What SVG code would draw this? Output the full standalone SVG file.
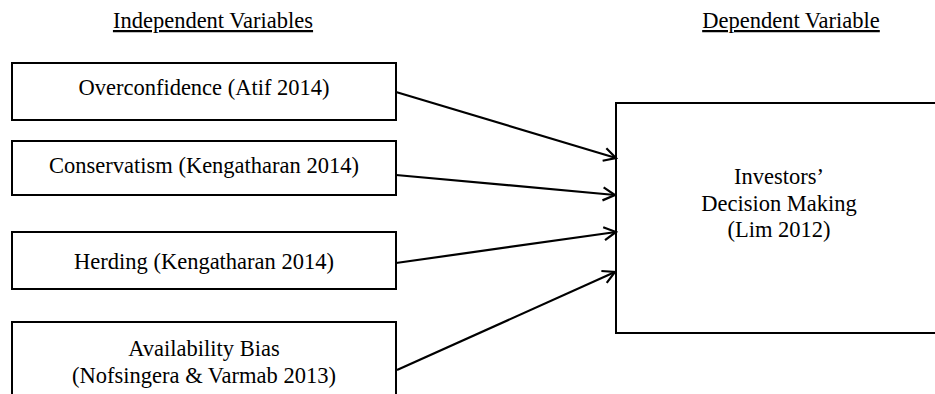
<svg xmlns="http://www.w3.org/2000/svg" width="935" height="394" viewBox="0 0 935 394">
<defs>
<style>
.box{fill:#fff;stroke:#000;stroke-width:2}
.t{font-family:"Liberation Serif","Times New Roman",serif;font-size:22.5px;fill:#000;text-anchor:middle}
.h{font-family:"Liberation Serif","Times New Roman",serif;font-size:22.5px;fill:#000;text-anchor:middle;text-decoration:underline}
.c{stroke:#000;stroke-width:2.2;fill:none}
</style>
<marker id="ah" viewBox="0 0 16 16" refX="14" refY="8" markerWidth="16" markerHeight="16" markerUnits="userSpaceOnUse" orient="auto">
<path d="M2,1.5 L14,8 L2,14.5" fill="none" stroke="#000" stroke-width="2.2"/>
</marker>
</defs>
<rect width="935" height="394" fill="#fff"/>
<text class="h" x="213" y="28">Independent Variables</text>
<text class="h" x="791" y="28">Dependent Variable</text>
<g id="n1"><rect class="box" x="12" y="63" width="384" height="57"/><text class="t" x="204" y="95">Overconfidence (Atif 2014)</text></g>
<g id="n2"><rect class="box" x="12" y="141" width="384" height="54"/><text class="t" x="204" y="173">Conservatism (Kengatharan 2014)</text></g>
<g id="n3"><rect class="box" x="12" y="232" width="384" height="57"/><text class="t" x="204" y="269">Herding (Kengatharan 2014)</text></g>
<g id="n4"><rect class="box" x="12" y="322" width="384" height="90"/><text class="t" x="204" y="356">Availability Bias</text><text class="t" x="204" y="383">(Nofsingera &amp; Varmab 2013)</text></g>
<g id="n5"><rect class="box" x="616" y="103" width="340" height="230"/><text class="t" x="779" y="184">Investors’</text><text class="t" x="779" y="211">Decision Making</text><text class="t" x="779" y="237">(Lim 2012)</text></g>
<g id="connectors">
<line class="c" x1="396" y1="92" x2="616" y2="158" marker-end="url(#ah)"/>
<line class="c" x1="396" y1="175" x2="615" y2="195" marker-end="url(#ah)"/>
<line class="c" x1="396" y1="263" x2="616" y2="232" marker-end="url(#ah)"/>
<line class="c" x1="397" y1="370" x2="615" y2="272" marker-end="url(#ah)"/>
</g>
</svg>
